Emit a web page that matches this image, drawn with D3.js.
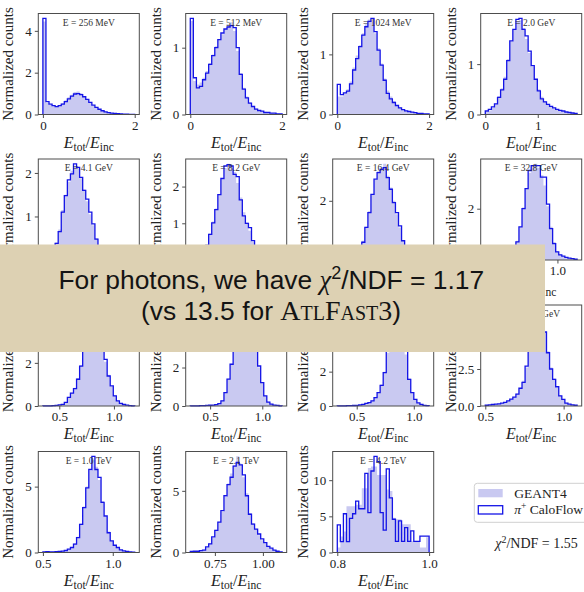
<!DOCTYPE html>
<meta charset="utf-8">
<style>
body { margin: 0; background: #fff; }
svg { display: block; }
.frame { fill: none; stroke: #4d4d4d; stroke-width: 1; }
.axis path { display: none; }
.axis line { stroke: #4d4d4d; }
.axis text { font: 13px "Liberation Serif", serif; fill: #222; }
.ptitle { font: 9.5px "Liberation Serif", serif; fill: #333; text-anchor: middle; }
.ylab { font: 15px "Liberation Serif", serif; fill: #222; text-anchor: middle; }
.xlab { font: 16px "Liberation Serif", serif; fill: #222; text-anchor: middle; }
.g4 { fill: #c9c9f1; stroke: none; }
.flow { fill: none; stroke: #1414e6; stroke-width: 1.3; }
.leg { font: 13.5px "Liberation Serif", serif; fill: #222; }
.banner text { font: 26.4px "Liberation Sans", sans-serif; fill: #141414; text-anchor: middle; }
</style>
<body>
<svg width="584" height="592"></svg>
<script src="https://cdnjs.cloudflare.com/ajax/libs/d3/7.8.5/d3.min.js"></script>
<script>

var energyLabels = ["256 MeV", "512 MeV", "1024 MeV", "2.0 GeV",
                    "4.1 GeV", "8.2 GeV", "16.4 GeV", "32.8 GeV",
                    "65.5 GeV", "131.1 GeV", "262.1 GeV", "524.3 GeV",
                    "1.0 TeV", "2.1 TeV", "4.2 TeV"];

var xRanges = [[0, 2], [0, 2], [0, 2], [0, 1.75],
               [0.2, 1.4], [0.25, 1.3], [0.3, 1.25], [0.45, 1.15],
               [0.35, 1.19], [0.31, 1.19], [0.33, 1.134], [0.5, 1.086],
               [0.5, 1.157], [0.622, 1.1], [0.8, 1.0]];

var xTickVals = [[0, 2], [0, 2], [0, 2], [0, 1],
                 [0.5, 1.0], [0.5, 1.0], [0.5, 1.0], [0.5, 1.0],
                 [0.5, 1.0], [0.5, 1.0], [0.5, 1.0], [0.5, 1.0],
                 [0.5, 1.0], [0.75, 1.0], [0.8, 1.0]];
var xTickDec = [0, 0, 0, 0, 1, 1, 1, 1, 1, 1, 1, 1, 1, 2, 1];

var yTickVals = [[0, 2, 4], [0, 1], [0, 1], [0, 1],
                 [0, 1, 2], [0, 1, 2], [0, 2], [0, 2],
                 [0, 2, 4], [0, 2, 4], [0, 2, 4], [0, 2.5, 5],
                 [0, 5], [0, 5], [0, 5, 10]];
var yTickDec = [0, 0, 0, 0, 0, 0, 0, 0, 0, 0, 0, 1, 0, 0, 0];

// GEANT4 reference histograms (30 bins each)
var g4Counts = [
  [4.45, 0.55, 0.45, 0.4, 0.4, 0.45, 0.55, 0.68, 0.82, 0.95, 1.08, 1.1, 1.02, 0.88, 0.72, 0.55, 0.42, 0.32, 0.24, 0.17, 0.12, 0.09, 0.06, 0.05, 0.04, 0.03, 0.02, 0.02, 0.01, 0.01],
  [1.4, 0.5, 0.45, 0.48, 0.55, 0.65, 0.77, 0.9, 1.02, 1.13, 1.2, 1.28, 1.35, 1.38, 1.25, 0.95, 0.62, 0.4, 0.27, 0.18, 0.12, 0.09, 0.06, 0.05, 0.04, 0.03, 0.02, 0.02, 0.01, 0.01],
  [0.3, 0.3, 0.36, 0.42, 0.55, 0.78, 0.98, 1.15, 1.35, 1.5, 1.58, 1.55, 1.35, 1.1, 0.85, 0.6, 0.4, 0.3, 0.22, 0.16, 0.12, 0.09, 0.07, 0.05, 0.04, 0.03, 0.02, 0.02, 0.01, 0.01],
  [0.05, 0.08, 0.13, 0.22, 0.36, 0.52, 0.75, 1.1, 1.45, 1.7, 1.85, 1.87, 1.72, 1.5, 1.22, 0.95, 0.7, 0.5, 0.35, 0.27, 0.2, 0.16, 0.12, 0.1, 0.08, 0.06, 0.05, 0.04, 0.03, 0.02],
  [0.01, 0.02, 0.06, 0.2, 0.4, 0.7, 1.15, 1.5, 1.8, 2.05, 2.15, 2.1, 1.88, 1.62, 1.35, 1.05, 0.8, 0.5, 0.3, 0.18, 0.1, 0.06, 0.04, 0.03, 0.02, 0.02, 0.01, 0.01, 0.01, 0.01],
  [0.01, 0.01, 0.02, 0.06, 0.17, 0.42, 0.72, 1.05, 1.4, 1.8, 2.2, 2.5, 2.62, 2.5, 2.4, 2.1, 1.7, 1.3, 1.02, 0.8, 0.5, 0.3, 0.17, 0.1, 0.06, 0.04, 0.03, 0.02, 0.01, 0.01],
  [0.01, 0.01, 0.01, 0.02, 0.04, 0.09, 0.2, 0.38, 0.65, 1.12, 1.65, 2.2, 2.7, 3.0, 3.1, 3.25, 2.85, 2.45, 2.0, 1.55, 1.1, 0.65, 0.35, 0.18, 0.08, 0.04, 0.02, 0.01, 0.01, 0.01],
  [0.01, 0.01, 0.02, 0.02, 0.03, 0.04, 0.06, 0.1, 0.2, 0.42, 0.75, 1.3, 2.05, 2.8, 3.4, 3.7, 3.75, 3.6, 3.3, 2.9, 2.1, 1.3, 0.7, 0.35, 0.22, 0.15, 0.1, 0.07, 0.05, 0.03],
  [0.01, 0.01, 0.01, 0.02, 0.03, 0.05, 0.09, 0.18, 0.38, 0.62, 0.85, 1.3, 1.9, 2.55, 3.35, 4.0, 4.4, 4.15, 3.4, 2.6, 2.05, 1.45, 0.9, 0.5, 0.25, 0.12, 0.07, 0.04, 0.02, 0.01],
  [0.01, 0.01, 0.01, 0.02, 0.02, 0.03, 0.04, 0.05, 0.08, 0.13, 0.3, 0.72, 1.42, 2.2, 3.0, 3.85, 4.6, 4.95, 4.85, 4.3, 3.5, 2.85, 2.0, 1.2, 0.55, 0.22, 0.1, 0.05, 0.03, 0.01],
  [0.01, 0.01, 0.01, 0.02, 0.02, 0.03, 0.05, 0.07, 0.1, 0.14, 0.2, 0.32, 0.5, 0.8, 1.25, 2.0, 3.1, 4.4, 5.3, 5.5, 5.2, 4.4, 3.0, 1.6, 0.8, 0.4, 0.18, 0.1, 0.04, 0.02],
  [0.04, 0.07, 0.1, 0.12, 0.16, 0.2, 0.27, 0.36, 0.48, 0.62, 0.85, 1.2, 1.7, 2.6, 3.9, 5.1, 6.1, 6.4, 6.0, 5.0, 3.7, 2.6, 1.85, 1.25, 0.72, 0.45, 0.22, 0.12, 0.08, 0.05],
  [0.04, 0.05, 0.06, 0.06, 0.07, 0.09, 0.12, 0.17, 0.27, 0.4, 0.7, 1.2, 2.2, 3.5, 5.0, 6.2, 7.0, 6.5, 5.5, 3.9, 2.7, 1.6, 0.9, 0.55, 0.35, 0.2, 0.12, 0.08, 0.04, 0.02],
  [0.06, 0.08, 0.12, 0.15, 0.25, 0.4, 0.75, 1.2, 1.85, 2.5, 3.3, 4.5, 5.6, 6.4, 7.1, 7.8, 7.2, 6.1, 4.8, 3.2, 2.4, 1.9, 1.4, 1.0, 0.75, 0.5, 0.3, 0.2, 0.1, 0.05],
  [0.7, 2.2, 2.9, 6.4, 6.4, 6.4, 6.6, 6.6, 8.9, 8.9, 11.7, 11.9, 11.9, 10.7, 10.7, 10.7, 8.7, 8.5, 4.8, 4.6, 4.6, 3.9, 3.9, 3.9, 1.6, 1.6, 1.6, 0.7, 0.7, 2.1]
];

// pi+ CaloFlow histograms (30 bins each)
var flowCounts = [
  [4.6, 0.62, 0.5, 0.42, 0.38, 0.42, 0.5, 0.62, 0.75, 0.88, 0.98, 1.0, 0.95, 0.85, 0.72, 0.58, 0.45, 0.34, 0.25, 0.18, 0.13, 0.09, 0.07, 0.05, 0.04, 0.03, 0.02, 0.02, 0.01, 0.01],
  [1.44, 0.55, 0.4, 0.42, 0.52, 0.62, 0.75, 0.88, 1.0, 1.12, 1.22, 1.28, 1.31, 1.33, 1.3, 1.0, 0.6, 0.38, 0.25, 0.17, 0.12, 0.08, 0.06, 0.05, 0.03, 0.03, 0.02, 0.02, 0.01, 0.01],
  [0.5, 0.33, 0.36, 0.39, 0.51, 0.74, 0.93, 1.13, 1.32, 1.46, 1.55, 1.6, 1.38, 1.07, 0.82, 0.57, 0.35, 0.26, 0.2, 0.15, 0.11, 0.08, 0.06, 0.05, 0.04, 0.03, 0.02, 0.02, 0.01, 0.01],
  [0.07, 0.1, 0.15, 0.21, 0.34, 0.49, 0.7, 1.07, 1.46, 1.69, 1.89, 1.91, 1.69, 1.56, 1.26, 0.97, 0.7, 0.47, 0.31, 0.25, 0.2, 0.16, 0.13, 0.1, 0.08, 0.07, 0.05, 0.04, 0.03, 0.02],
  [0.01, 0.02, 0.06, 0.18, 0.38, 0.65, 1.1, 1.48, 1.84, 1.98, 2.21, 2.13, 1.9, 1.6, 1.4, 1.1, 0.83, 0.48, 0.3, 0.18, 0.1, 0.06, 0.04, 0.03, 0.02, 0.02, 0.01, 0.01, 0.01, 0.01],
  [0.01, 0.01, 0.02, 0.05, 0.15, 0.4, 0.7, 1.01, 1.37, 1.78, 2.22, 2.56, 2.6, 2.56, 2.33, 2.27, 1.64, 1.2, 1.0, 0.88, 0.53, 0.3, 0.17, 0.1, 0.06, 0.04, 0.03, 0.02, 0.01, 0.01],
  [0.01, 0.01, 0.01, 0.02, 0.04, 0.08, 0.18, 0.35, 0.6, 1.1, 1.6, 2.22, 2.73, 2.95, 3.06, 3.12, 2.78, 2.39, 1.94, 1.6, 1.15, 0.65, 0.35, 0.18, 0.08, 0.04, 0.02, 0.01, 0.01, 0.01],
  [0.01, 0.01, 0.02, 0.02, 0.03, 0.04, 0.06, 0.1, 0.2, 0.4, 0.71, 1.29, 2.0, 2.78, 3.49, 3.68, 3.68, 3.68, 3.23, 3.23, 2.18, 1.22, 0.64, 0.32, 0.2, 0.15, 0.1, 0.07, 0.05, 0.03],
  [0.01, 0.01, 0.01, 0.02, 0.03, 0.05, 0.08, 0.17, 0.4, 0.6, 0.81, 1.24, 1.85, 2.6, 3.3, 3.9, 4.46, 4.2, 3.3, 2.53, 2.16, 1.39, 0.93, 0.47, 0.24, 0.12, 0.07, 0.04, 0.02, 0.01],
  [0.01, 0.01, 0.01, 0.02, 0.02, 0.03, 0.04, 0.05, 0.07, 0.12, 0.27, 0.7, 1.4, 2.17, 2.95, 3.8, 4.5, 5.0, 4.9, 4.3, 3.4, 2.95, 2.08, 1.22, 0.53, 0.2, 0.1, 0.05, 0.03, 0.01],
  [0.01, 0.01, 0.01, 0.02, 0.02, 0.03, 0.04, 0.06, 0.1, 0.15, 0.2, 0.3, 0.49, 0.78, 1.2, 1.94, 3.2, 4.3, 5.2, 5.6, 5.3, 4.3, 3.2, 1.55, 0.78, 0.39, 0.18, 0.1, 0.04, 0.02],
  [0.05, 0.08, 0.1, 0.12, 0.15, 0.2, 0.25, 0.35, 0.46, 0.6, 0.8, 1.2, 1.6, 2.7, 3.86, 5.0, 6.0, 6.5, 6.2, 5.0, 3.6, 2.5, 1.8, 1.3, 0.68, 0.45, 0.2, 0.12, 0.08, 0.05],
  [0.05, 0.07, 0.05, 0.05, 0.06, 0.08, 0.1, 0.15, 0.25, 0.38, 0.63, 1.13, 2.14, 3.4, 4.9, 6.3, 7.3, 6.3, 5.7, 3.8, 2.77, 1.5, 0.88, 0.55, 0.38, 0.2, 0.13, 0.08, 0.04, 0.02],
  [0.08, 0.1, 0.1, 0.15, 0.2, 0.45, 0.7, 1.27, 1.8, 2.47, 3.4, 4.6, 5.5, 6.1, 7.0, 7.3, 7.1, 6.3, 4.6, 3.1, 2.3, 1.9, 1.5, 1.1, 0.8, 0.5, 0.35, 0.2, 0.1, 0.05],
  [3.82, 1.5, 5.36, 1.5, 4.73, 5.36, 7.09, 6.05, 6.05, 10.95, 5.5, 11.27, 13.3, 12.55, 5.5, 3.09, 11.55, 7.55, 4.6, 1.55, 4.36, 1.55, 3.45, 1.55, 3.0, 1.55, 1.55, 2.27, 2.27, 2.27]
];

var colX = [38.3, 185.7, 332.7, 480.7],
    rowY = [13.5, 159, 305, 451.5],
    pw = 101, ph = 101;

var bannerBox = {x: 0, y: 244.5, w: 545, h: 107.5};

var svg = d3.select("svg");
var panels = svg.append("g");

energyLabels.forEach(function(label, i) {
  var lo = xRanges[i][0], hi = xRanges[i][1],
      g4 = g4Counts[i], fl = flowCounts[i],
      n = fl.length, bw = (hi - lo) / n, pad = 0.05 * (hi - lo);

  var x = d3.scaleLinear().domain([lo - pad, hi + pad]).range([0, pw]);
  var y = d3.scaleLinear().domain([0, d3.max(g4.concat(fl)) * 1.05]).range([ph, 0]);

  var g = panels.append("g")
    .attr("transform", "translate(" + colX[i % 4] + "," + rowY[Math.floor(i / 4)] + ")");

  // GEANT4 filled step histogram
  var g4pts = g4.map(function(v, k) { return [lo + k * bw, v]; });
  g4pts.push([hi, g4[n - 1]]);
  g.append("path")
    .datum(g4pts)
    .attr("class", "g4")
    .attr("d", d3.area()
      .curve(d3.curveStepAfter)
      .x(function(d) { return x(d[0]); })
      .y0(y(0))
      .y1(function(d) { return y(d[1]); }));

  // CaloFlow step outline
  var flpts = [[lo, 0]].concat(fl.map(function(v, k) { return [lo + k * bw, v]; }));
  flpts.push([hi, fl[n - 1]], [hi, 0]);
  g.append("path")
    .datum(flpts)
    .attr("class", "flow")
    .attr("d", d3.line()
      .curve(d3.curveStepAfter)
      .x(function(d) { return x(d[0]); })
      .y(function(d) { return y(d[1]); }));

  g.append("rect")
    .attr("class", "frame")
    .attr("width", pw)
    .attr("height", ph);

  g.append("g")
    .attr("class", "axis")
    .call(d3.axisLeft(y).tickValues(yTickVals[i]).tickSize(3.5).tickPadding(3)
      .tickFormat(d3.format("." + yTickDec[i] + "f")));

  g.append("g")
    .attr("class", "axis")
    .attr("transform", "translate(0," + ph + ")")
    .call(d3.axisBottom(x).tickValues(xTickVals[i]).tickSize(3.5).tickPadding(2.5)
      .tickFormat(d3.format("." + xTickDec[i] + "f")));

  g.append("text")
    .attr("class", "ptitle")
    .attr("x", pw / 2)
    .attr("y", 12)
    .text("E = " + label);

  g.append("text")
    .attr("class", "ylab")
    .attr("transform", "translate(-25," + (ph / 2) + ")rotate(-90)")
    .text("Normalized counts");

  var xl = g.append("text")
    .attr("class", "xlab")
    .attr("x", pw / 2)
    .attr("y", ph + 33);
  xl.append("tspan").style("font-style", "italic").text("E");
  xl.append("tspan").attr("dy", 3).style("font-size", "11.5px").text("tot");
  xl.append("tspan").attr("dy", -3).text("/");
  xl.append("tspan").style("font-style", "italic").text("E");
  xl.append("tspan").attr("dy", 3).style("font-size", "11.5px").text("inc");
});

// texts that sit entirely under the banner are never seen: drop them
panels.selectAll("text").each(function() {
  var r = this.getBoundingClientRect();
  if (r.left >= bannerBox.x && r.right <= bannerBox.x + bannerBox.w &&
      r.top >= bannerBox.y && r.bottom <= bannerBox.y + bannerBox.h) {
    d3.select(this).remove();
  }
});

// legend
var leg = svg.append("g").attr("transform", "translate(474.3,483.3)");
leg.append("rect")
  .attr("width", 118).attr("height", 39).attr("rx", 3)
  .attr("fill", "#fff").attr("stroke", "#d0d0d0");
leg.append("rect").attr("class", "g4")
  .attr("x", 4).attr("y", 5.7).attr("width", 24.4).attr("height", 8.3);
leg.append("rect")
  .attr("x", 4).attr("y", 22.4).attr("width", 24.4).attr("height", 8.3)
  .attr("fill", "#fff").attr("stroke", "#1414e6").attr("stroke-width", 1.3);
leg.append("text").attr("class", "leg").attr("x", 40).attr("y", 14.3).text("GEANT4");
var lt = leg.append("text").attr("class", "leg").attr("x", 40).attr("y", 31);
lt.append("tspan").style("font-style", "italic").text("π");
lt.append("tspan").attr("dy", -5).style("font-size", "9.5px").text("+");
lt.append("tspan").attr("dy", 5).text(" CaloFlow");

var chi = svg.append("text").attr("class", "leg").attr("x", 495.3).attr("y", 548)
  .style("font-size", "14px");
chi.append("tspan").style("font-style", "italic").text("χ");
chi.append("tspan").attr("dy", -5).style("font-size", "10px").text("2");
chi.append("tspan").attr("dy", 5).text("/NDF = 1.55");

// overlay banner
var ban = svg.append("g").attr("class", "banner");
ban.append("rect")
  .attr("x", bannerBox.x).attr("y", bannerBox.y)
  .attr("width", bannerBox.w).attr("height", bannerBox.h)
  .attr("fill", "#ddd1b3");
var l1 = ban.append("text").attr("x", 271.3).attr("y", 289.3);
l1.append("tspan").text("For photons, we have ");
l1.append("tspan").style("font-family", "'Liberation Serif', serif").style("font-style", "italic").text("χ");
l1.append("tspan").attr("dy", -10).style("font-size", "18px").text("2");
l1.append("tspan").attr("dy", 10).text("/NDF = 1.17");
var l2 = ban.append("text").attr("x", 271).attr("y", 320);
l2.append("tspan").text("(vs 13.5 for ");
l2.append("tspan").style("font-family", "'Liberation Serif', serif").style("font-variant", "small-caps").style("font-size", "28px").text("AtlFast3");
l2.append("tspan").text(")");

</script>
</body>
